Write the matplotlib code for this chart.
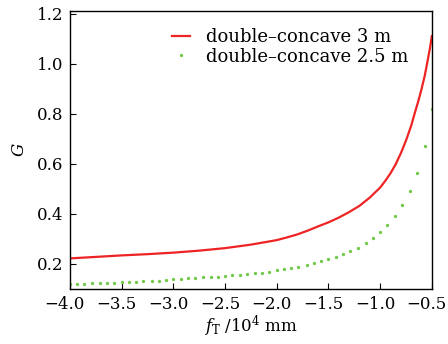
import matplotlib
matplotlib.use('Agg')
import matplotlib.pyplot as plt
import matplotlib.transforms as mtransforms

# red curve: double-concave 3 m
f_red = [-4.0, -3.75, -3.5, -3.25, -3.0, -2.75, -2.5, -2.25, -2.0, -1.9, -1.8,
         -1.7, -1.6, -1.5, -1.4, -1.3, -1.2, -1.1, -1.0, -0.95, -0.9, -0.85,
         -0.8, -0.75, -0.7, -0.67, -0.63, -0.6, -0.57, -0.55, -0.52, -0.5]
g_red = [0.222, 0.228, 0.234, 0.239, 0.245, 0.253, 0.263, 0.277, 0.295, 0.306, 0.318,
         0.333, 0.350, 0.366, 0.385, 0.407, 0.432, 0.465, 0.505, 0.532, 0.562, 0.598,
         0.642, 0.693, 0.752, 0.796, 0.852, 0.898, 0.950, 0.992, 1.058, 1.110]

# green dots: double-concave 2.5 m
f_green = [-4.00, -3.93, -3.86, -3.79, -3.71, -3.64, -3.57, -3.50, -3.43, -3.36,
           -3.29, -3.21, -3.14, -3.07, -3.00, -2.93, -2.86, -2.79, -2.71, -2.64,
           -2.57, -2.50, -2.43, -2.36, -2.29, -2.21, -2.14, -2.07, -2.00, -1.93,
           -1.86, -1.79, -1.71, -1.64, -1.57, -1.50, -1.43, -1.36, -1.29, -1.21,
           -1.14, -1.07, -1.00, -0.93, -0.86, -0.79, -0.71, -0.64, -0.57, -0.50]
g_green = [0.119, 0.119, 0.120, 0.122, 0.123, 0.124, 0.125, 0.126, 0.128, 0.129,
           0.131, 0.132, 0.133, 0.135, 0.138, 0.140, 0.142, 0.144, 0.146, 0.147,
           0.149, 0.151, 0.154, 0.157, 0.159, 0.162, 0.165, 0.169, 0.175, 0.179,
           0.184, 0.189, 0.196, 0.203, 0.211, 0.219, 0.228, 0.239, 0.252, 0.265,
           0.284, 0.303, 0.327, 0.356, 0.391, 0.435, 0.491, 0.565, 0.669, 0.819]

x_ticks = [-4.0, -3.5, -3.0, -2.5, -2.0, -1.5, -1.0, -0.5]
y_ticks = [0.2, 0.4, 0.6, 0.8, 1.0, 1.2]

plt.rcParams['font.family'] = 'DejaVu Serif'
plt.rcParams['mathtext.fontset'] = 'dejavuserif'
plt.rcParams['font.size'] = 12

fig = plt.figure(figsize=(4.48, 3.44), dpi=100)
ax = fig.add_axes([0.156, 0.160, 0.808, 0.808])

ax.plot(f_red, g_red, color='#ee2424', lw=1.6, label='double\u2013concave 3 m')
ax.plot(f_green, g_green, ls='none', marker='o', ms=2.4, mew=0,
        color='#72c84a', label='double\u2013concave 2.5 m')

ax.set_xlim(-4.0, -0.5)
ax.set_ylim(0.1, 1.21)
ax.set_xticks(x_ticks)
ax.set_yticks(y_ticks)
ax.set_xticklabels(['\u2212%.1f' % abs(v) for v in x_ticks])
ax.set_yticklabels(['%.1f' % v for v in y_ticks])
ax.tick_params(direction='in', length=4, width=0.8, pad=5)

# x tick labels sit a little left of their ticks in the original
shift = mtransforms.ScaledTranslation(-5 / 100, 0, fig.dpi_scale_trans)
for lab in ax.get_xticklabels():
    lab.set_transform(lab.get_transform() + shift)

for s in ax.spines.values():
    s.set_linewidth(1.0)

ax.set_xlabel(r'$f_\mathrm{T}$ /10$^4$ mm', labelpad=1)
ax.set_ylabel(r'$G$', labelpad=6)

ax.legend(loc='upper right', bbox_to_anchor=(0.956, 0.965), frameon=False,
          fontsize=13, handlelength=1.0, handletextpad=0.9, labelspacing=0.1,
          numpoints=1, borderaxespad=0.0)

fig.savefig('out.png', dpi=100, facecolor='white')
